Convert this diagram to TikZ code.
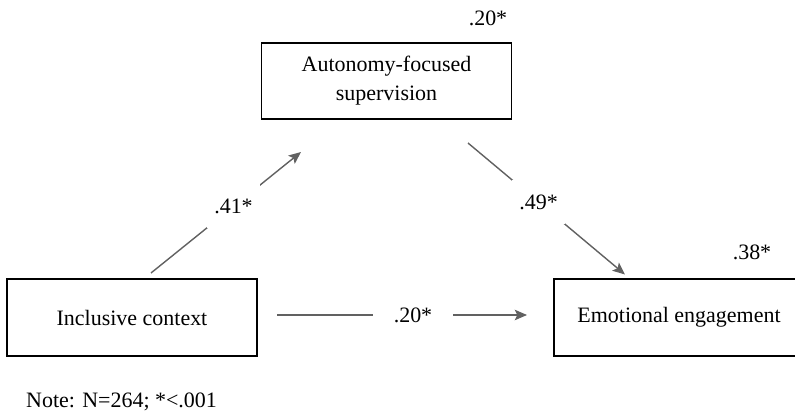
\documentclass[tikz,border=0pt]{standalone}
\usepackage{fontspec}
\setmainfont{Liberation Serif}
\usetikzlibrary{arrows.meta}

\begin{document}
\begin{tikzpicture}[
    font=\fontsize{12.5}{16.5}\selectfont,
    var/.style={draw, line width=1pt, minimum width=5cm, minimum height=1.53cm, align=center},
    link/.style={draw=black!62, line width=0.8pt},
    tip/.style={-{Stealth[length=7pt, width=6pt, inset=1.5pt]}},
    coef/.style={fill=white, minimum height=25pt, inner xsep=4pt}
  ]
    \useasboundingbox (0,0) rectangle (15.9,-8.26);

    \node[var] (afs) at (7.73, -1.62) {Autonomy-focused\\supervision};
    \node[var] (ic) at (2.64, -6.35) {Inclusive context};
    \node[var] (ee) at (13.58, -6.35) {Emotional engagement};
    \node (rafs) at (9.76, -0.36) {.20*};
    \node (ree) at (15.04, -5.04) {.38*};
    \node[anchor=west] (note) at (0.40, -8.04) {Note: N=264; *<.001};

    \coordinate (a1s) at (3.02, -5.46);
    \coordinate (a1e) at (6.02, -3.04);
    \coordinate (b1s) at (9.36, -2.86);
    \coordinate (b1e) at (12.50, -5.49);
    \coordinate (c1s) at (5.54, -6.30);
    \coordinate (c1e) at (10.54, -6.30);

    %%%%%%%%%%%%%%%%%%%%%%%%%%%%%%%%%%%%%%%%

    \draw[link, tip] (a1s) -- node[coef, pos=0.55] (pa) {.41*} (a1e);
    \draw[link, tip] (b1s) -- node[coef, pos=0.45] (pb) {.49*} (b1e);
    \draw[link, tip] (c1s) -- node[coef, pos=0.544, inner xsep=12pt] (pc) {.20*} (c1e);

\end{tikzpicture}
\end{document}
